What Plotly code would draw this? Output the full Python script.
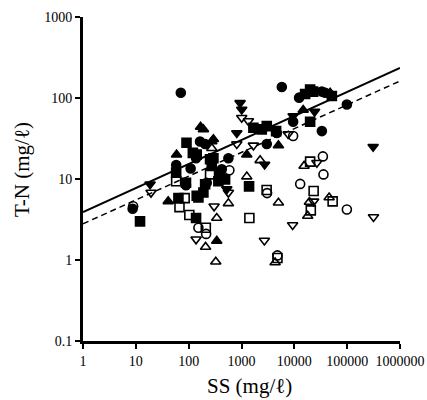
import plotly.graph_objects as go

# SS (mg/l) vs T-N (mg/l)

# filled circles
fc_x = [8.7, 71, 58, 109, 164, 205, 220, 424, 565, 3010, 4660, 5800, 12300, 9490,
        33200, 38300, 98700, 33200, 89, 138]
fc_y = [4.3, 116, 14.9, 13.5, 29, 27, 9.0, 13.2, 18, 27, 37, 137, 101, 51,
        120, 116, 83, 39, 8.4, 18]

# filled squares
fs_x = [12, 64, 91, 120, 142, 58, 89, 142, 190, 274, 294, 393, 489, 205, 365,
        138, 153, 1390, 1680, 2420, 3010, 4520, 16000, 19900, 22700, 19900, 51300, 254]
fs_y = [3.0, 5.8, 28, 21, 20, 12, 9.0, 6.2, 6.8, 14.5, 18, 11.4, 9.9, 8.6, 9.4,
        3.3, 5.9, 8.1, 43, 41, 45, 39, 112, 127, 120, 51, 106, 17.5]

# filled triangles (up)
ftu_x = [41, 59, 168, 274, 1260, 5000, 14700, 47600, 340, 190, 294]
ftu_y = [5.3, 20, 44, 29, 20, 26, 71, 116, 1.72, 41, 31]

# filled triangles (down)
ftd_x = [18.6, 940, 1010, 815, 2740, 9490, 24200, 310000, 527]
ftd_y = [8.6, 87, 72, 37, 15.1, 60, 68, 25, 7.5]

# open circles
oc_x = [34700, 35600, 12900, 3050, 98700, 9490, 4790, 153, 214, 590, 8.9]
oc_y = [19, 11.4, 8.7, 6.7, 4.2, 34, 1.14, 2.5, 2.1, 12.8, 4.6]

# open squares
os_x = [58, 84, 67, 103, 211, 254, 1410, 2990, 19900, 23200, 20500, 53100, 4790]
os_y = [9.4, 5.8, 4.5, 3.6, 2.5, 11.4, 3.3, 7.3, 16.4, 7.1, 4.1, 5.3, 1.06]

# open triangles (up)
otu_x = [209, 326, 340, 565, 1260, 2250, 5000, 4330, 15300, 19300, 17900, 45600, 274]
otu_y = [1.45, 0.95, 3.3, 5.0, 10.7, 17, 5.1, 0.93, 14.5, 5.2, 3.5, 5.9, 24]

# open triangles (down)
otd_x = [19.4, 138, 303, 565, 815, 1680, 1010, 1350, 2710, 9290, 23200, 26700, 315000, 7630]
otd_y = [6.8, 1.8, 4.6, 6.8, 27, 26, 57, 52, 1.74, 2.7, 5.3, 15.9, 3.4, 36]

# regression lines
line_x = [1, 1000000]
solid_y = [3.9, 235]
dashed_y = [2.8, 162]

x_ticks = [1, 10, 100, 1000, 10000, 100000, 1000000]
x_labels = ["1", "10", "100", "1000", "10000", "100000", "1000000"]
y_ticks = [0.1, 1, 10, 100, 1000]
y_labels = ["0.1", "1", "10", "100", "1000"]

series = [
    (fc_x, fc_y, "circle"),
    (fs_x, fs_y, "square"),
    (ftu_x, ftu_y, "triangle-up"),
    (ftd_x, ftd_y, "triangle-down"),
    (oc_x, oc_y, "circle-open"),
    (os_x, os_y, "square-open"),
    (otu_x, otu_y, "triangle-up-open"),
    (otd_x, otd_y, "triangle-down-open"),
]

fig = go.Figure()

fig.add_trace(go.Scatter(x=line_x, y=solid_y, mode="lines",
                         line=dict(color="black", width=2)))
fig.add_trace(go.Scatter(x=line_x, y=dashed_y, mode="lines",
                         line=dict(color="black", width=1.5, dash="6px,4px")))

for xs, ys, sym in series:
    fig.add_trace(go.Scatter(
        x=xs, y=ys, mode="markers", cliponaxis=False,
        marker=dict(symbol=sym, size=9, color="black",
                    line=dict(color="black", width=1.6)),
    ))

serif = "Liberation Serif, serif"

fig.update_xaxes(
    type="log", range=[0, 6], automargin=False,
    tickvals=x_ticks, ticktext=x_labels,
    showline=True, linewidth=3, linecolor="black",
    ticks="outside", ticklen=5, tickwidth=2, tickcolor="black",
    showgrid=False, zeroline=False, ticklabeloverflow="allow",
    tickfont=dict(family=serif, size=14, color="black"),
)
fig.update_yaxes(
    type="log", range=[-1, 3], automargin=False,
    tickvals=y_ticks, ticktext=y_labels,
    showline=True, linewidth=3, linecolor="black",
    ticks="outside", ticklen=5, tickwidth=2, tickcolor="black",
    showgrid=False, zeroline=False,
    tickfont=dict(family=serif, size=14, color="black"),
)

title_font = dict(family=serif, size=21, color="black")
fig.add_annotation(text="SS (mg/ℓ)", xref="paper", yref="paper",
                   x=0.524, y=-0.139, showarrow=False, font=title_font,
                   xanchor="center", yanchor="middle")
fig.add_annotation(text="T-N (mg/ℓ)", xref="paper", yref="paper",
                   x=-0.192, y=0.528, showarrow=False, font=title_font,
                   textangle=-90, xanchor="center", yanchor="middle")

fig.update_layout(
    width=427, height=400,
    margin=dict(l=83, r=27, t=17, b=59),
    paper_bgcolor="white", plot_bgcolor="white",
    showlegend=False,
)

# drop the default 8px body margin so the figure fills the window
fig.write_html("out.html",
               config={"displayModeBar": False},
               post_script="document.body.style.margin='0';"
                           "document.body.style.overflow='hidden';")
